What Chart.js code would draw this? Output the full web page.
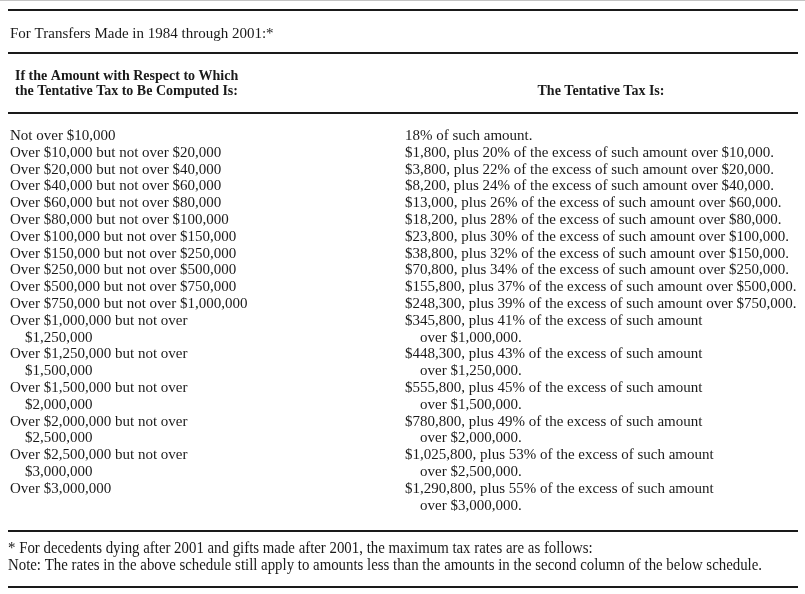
<!DOCTYPE html>
<html lang="en">
<head>
    <meta charset="UTF-8">
    <title>Tentative Tax Schedule</title>
    <script src="https://cdn.jsdelivr.net/npm/chart.js"></script>
    <style>
        body { margin: 0; background: #fff; }
        #taxChart { display: block; }
    </style>
</head>
<body>
    <canvas id="taxChart" width="805" height="594"></canvas>

    <script>
        // Schedule data: lower bound of each bracket, tax at that bound, marginal rate (%)
        const thresholds = [0, 10000, 20000, 40000, 60000, 80000, 100000, 150000, 250000, 500000,
                            750000, 1000000, 1250000, 1500000, 2000000, 2500000, 3000000];
        const baseTax = [0, 1800, 3800, 8200, 13000, 18200, 23800, 38800, 70800, 155800,
                         248300, 345800, 448300, 555800, 780800, 1025800, 1290800];
        const rates = [18, 20, 22, 24, 26, 28, 30, 32, 34, 37, 39, 41, 43, 45, 49, 53, 55];

        const title = 'For Transfers Made in 1984 through 2001:*';
        const leftHeader = ['If the Amount with Respect to Which', 'the Tentative Tax to Be Computed Is:'];
        const rightHeader = 'The Tentative Tax Is:';
        const footnotes = [
            '* For decedents dying after 2001 and gifts made after 2001, the maximum tax rates are as follows:',
            'Note: The rates in the above schedule still apply to amounts less than the amounts in the second column of the below schedule.'
        ];

        const money = v => '$' + v.toLocaleString('en-US');
        const last = thresholds.length - 1;

        // Text for each bracket; brackets from $1,000,000 up wrap onto two lines
        const amountText = thresholds.map((t, i) => {
            if (i === 0) return ['Not over ' + money(thresholds[1])];
            if (i === last) return ['Over ' + money(t)];
            if (thresholds[i + 1] > 1000000) return ['Over ' + money(t) + ' but not over', money(thresholds[i + 1])];
            return ['Over ' + money(t) + ' but not over ' + money(thresholds[i + 1])];
        });
        const taxText = thresholds.map((t, i) => {
            if (i === 0) return [rates[i] + '% of such amount.'];
            const head = money(baseTax[i]) + ', plus ' + rates[i] + '% of the excess of such amount';
            if (t >= 1000000) return [head, 'over ' + money(t) + '.'];
            return [head + ' over ' + money(t) + '.'];
        });

        // Row index of each bracket (rows are text lines)
        let rowStart = [];
        let r = 0;
        amountText.forEach(lines => { rowStart.push(r); r += lines.length; });

        const FONT = '"Liberation Serif", "DejaVu Serif", serif';
        const INK = '#1a1a1a';

        const tablePlugin = {
            id: 'tablePlugin',
            afterDatasetsDraw(chart) {
                const c = chart.ctx;
                const ys = chart.scales.y;
                const xs = chart.scales.x;
                const left = xs.getPixelForValue(0);
                c.save();
                c.textBaseline = 'alphabetic';

                // frame line of the page
                c.fillStyle = '#c4c4c4';
                c.fillRect(0, 0, chart.width, 1);
                c.fillStyle = INK;

                // horizontal rules
                c.strokeStyle = INK;
                c.lineWidth = 2;
                [-7.74, -5.15, -1.63, 23.27, 26.6].forEach(row => {
                    const y = Math.round(ys.getPixelForValue(row));
                    c.beginPath();
                    c.moveTo(8, y);
                    c.lineTo(798, y);
                    c.stroke();
                });

                // title
                c.font = '15px ' + FONT;
                c.textAlign = 'left';
                c.fillText(title, left, ys.getPixelForValue(-6.07));

                // column headers
                c.font = 'bold 14px ' + FONT;
                c.fillText(leftHeader[0], left + 5, ys.getPixelForValue(-3.57));
                c.fillText(leftHeader[1], left + 5, ys.getPixelForValue(-2.68));
                c.textAlign = 'center';
                c.fillText(rightHeader, 601, ys.getPixelForValue(-2.68));

                // table cells, placed at each point of the datasets
                c.font = '15px ' + FONT;
                c.textAlign = 'left';
                const texts = [amountText, taxText];
                chart.data.datasets.forEach((ds, d) => {
                    chart.getDatasetMeta(d).data.forEach((el, i) => {
                        texts[d][i].forEach((line, k) => {
                            const y = ys.getPixelForValue(ds.data[i].y + k);
                            c.fillText(line, el.x + (k ? 15 : 0), y);
                        });
                    });
                });

                // footnotes in a condensed face
                c.font = '16px ' + FONT;
                const squeeze = 754 / c.measureText(footnotes[1]).width;
                c.save();
                c.scale(squeeze, 1);
                c.fillText(footnotes[0], 8 / squeeze, ys.getPixelForValue(24.58));
                c.fillText(footnotes[1], 8 / squeeze, ys.getPixelForValue(25.6));
                c.restore();

                c.restore();
            }
        };

        const ctx = document.getElementById('taxChart').getContext('2d');
        const taxChart = new Chart(ctx, {
            type: 'scatter',
            data: {
                datasets: [
                    { label: 'Amount', data: thresholds.map((_, i) => ({ x: 0, y: rowStart[i] })), pointRadius: 0 },
                    { label: 'Tentative tax', data: thresholds.map((_, i) => ({ x: 1, y: rowStart[i] })), pointRadius: 0 }
                ]
            },
            options: {
                responsive: false,
                animation: false,
                events: [],
                layout: { padding: 0 },
                plugins: { legend: { display: false }, tooltip: { enabled: false } },
                scales: {
                    x: { type: 'linear', display: false, min: -10 / 395, max: 795 / 395 },
                    y: { type: 'linear', display: false, reverse: true, min: -140 / 16.8, max: 454 / 16.8 }
                }
            },
            plugins: [tablePlugin]
        });
    </script>
</body>
</html>
